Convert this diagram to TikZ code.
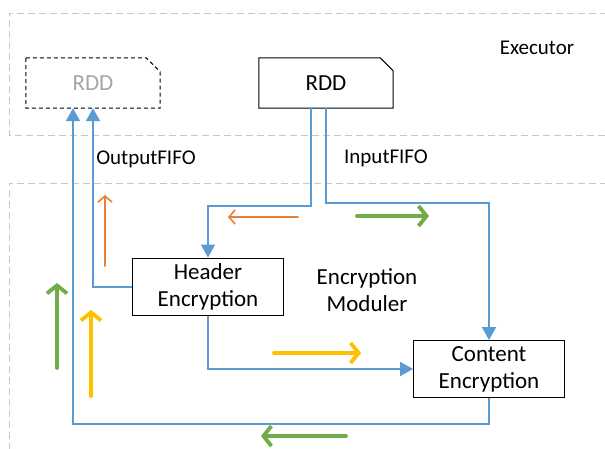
\documentclass[tikz,border=0pt]{standalone}
\usepackage{fontspec}
\setmainfont{Carlito}
\usetikzlibrary{arrows.meta}
\definecolor{flowblue}{HTML}{5B9BD5}
\definecolor{oorange}{HTML}{ED7D31}
\definecolor{ogreen}{HTML}{70AD47}
\definecolor{oyellow}{HTML}{FFC000}
\definecolor{dashgray}{HTML}{C8C8C8}
\definecolor{ghostgray}{HTML}{A6A6A6}
\tikzset{
  region/.style={draw=dashgray, line width=1pt, dash pattern=on 7pt off 4pt},
  boxtext/.style={font=\fontsize{23}{25}\selectfont, align=center},
  labeltext/.style={font=\fontsize{21}{23}\selectfont},
  encbox/.style={draw=black, line width=1pt, boxtext, minimum width=151pt, minimum height=57pt, inner sep=0pt},
  rddbox/.style={boxtext, minimum width=134pt, minimum height=50pt, inner sep=0pt},
  flow/.style={draw=flowblue, line width=2pt},
  flowarrow/.style={flow, -{Triangle[length=13pt,width=14pt]}},
  thinhint/.style={line width=1.6pt, line cap=round, -{Straight Barb[length=6pt,width=14pt,line width=1.6pt]}},
  thickhint/.style={line width=3.8pt, line cap=round, -{Straight Barb[length=8pt,width=20pt,line width=3.8pt]}},
}
\begin{document}
\begin{tikzpicture}[x=1pt,y=-1pt]
\useasboundingbox (0,0) rectangle (605,448);
\fill[white] (0,0) rectangle (605,448);
\begin{scope}
\clip (0,0) rectangle (605,448);
% regions
\draw[region] (640,13) -- (9,13) -- (9,135) -- (640,135);
\draw[region] (640,183) -- (9,183) -- (9,470);
\end{scope}
\node[labeltext] (exec) at (537,48) {Executor};
% RDD nodes
\node[rddbox, text=ghostgray] (ghost) at (93,83) {RDD};
\draw[line width=1pt, dash pattern=on 4pt off 3pt]
  (ghost.north west) -- ([xshift=-14pt]ghost.north east) -- ([yshift=-14pt]ghost.north east)
  -- (ghost.south east) -- (ghost.south west) -- cycle;
\node[rddbox] (rdd) at (326,83) {RDD};
\draw[line width=1pt]
  (rdd.north west) -- ([xshift=-13pt]rdd.north east) -- ([yshift=-13pt]rdd.north east)
  -- (rdd.south east) -- (rdd.south west) -- cycle;
\node[labeltext] (outl) at (146,159) {OutputFIFO};
\node[labeltext] (inl) at (386,158) {InputFIFO};
% encryption boxes
\node[encbox, fill=white] (he) at (208,286.5) {Header\\[2pt]Encryption};
\node[encbox, fill=white] (ce) at (489,369) {Content\\[2pt]Encryption};
\node[boxtext] (mod) at (367,290) {Encryption\\[2pt]Moduler};
% blue flows
\draw[flowarrow] ([xshift=-15pt]rdd.south) -- ++(0,98) -| (he.north);
\draw[flowarrow] (rdd.south) -- ++(0,95) -| (ce.north);
\draw[flowarrow] (he.west) -| (ghost.south);
\draw[flowarrow] (he.south) |- (ce.west);
\draw[flowarrow] (ce.south) -- ++(0,26) -| ([xshift=-20pt]ghost.south);
% hint arrows
\coordinate (o1a) at (105,266); \coordinate (o1b) at (105,195);
\coordinate (o2a) at (298,217); \coordinate (o2b) at (228,217);
\coordinate (g1a) at (357,216); \coordinate (g1b) at (429,216);
\coordinate (g2a) at (57,368);  \coordinate (g2b) at (57,283);
\coordinate (y1a) at (91,396);  \coordinate (y1b) at (91,310);
\coordinate (y2a) at (274,353); \coordinate (y2b) at (361,353);
\coordinate (g3a) at (346,436); \coordinate (g3b) at (261,436);
\draw[thinhint, oorange] (o1a) -- (o1b);
\draw[thinhint, oorange] (o2a) -- (o2b);
\draw[thickhint, ogreen] (g1a) -- (g1b);
\draw[thickhint, ogreen] (g2a) -- (g2b);
\draw[thickhint, oyellow] (y1a) -- (y1b);
\draw[thickhint, oyellow] (y2a) -- (y2b);
\draw[thickhint, ogreen] (g3a) -- (g3b);
\end{tikzpicture}
\end{document}
